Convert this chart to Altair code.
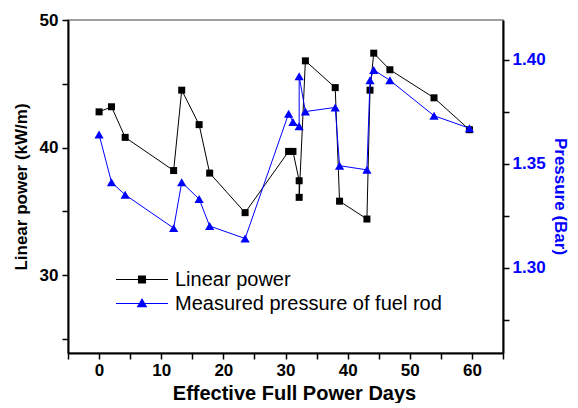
import altair as alt
import pandas as pd

# ---- data ----
days = [0, 2, 4.2, 12, 13.3, 16.1, 17.8, 23.5, 30.5, 31.2, 32.2, 32.2, 33.2,
        38.0, 38.7, 43.1, 43.6, 44.2, 46.8, 53.9, 59.6]
linear_power = [42.8, 43.2, 40.8, 38.2, 44.5, 41.8, 38.0, 34.9, 39.7, 39.7, 37.4,
                36.1, 46.8, 44.7, 35.8, 34.4, 44.5, 47.4, 46.1, 43.9, 41.4]
pressure = [1.364, 1.341, 1.335, 1.319, 1.341, 1.333, 1.320, 1.314, 1.374, 1.370,
            1.368, 1.392, 1.375, 1.377, 1.349, 1.347, 1.390, 1.395, 1.390, 1.373, 1.367]
series_names = ["Linear power", "Measured pressure of fuel rod"]
x_ticks = [-5, 0, 5, 10, 15, 20, 25, 30, 35, 40, 45, 50, 55, 60, 65]
lp_ticks = [25, 30, 35, 40, 45, 50]
pr_ticks = [1.275, 1.3, 1.325, 1.35, 1.375, 1.4]

FONT = "Liberation Sans"
BLUE = "#0000ff"

idx = list(range(len(days)))
df_lp = pd.DataFrame({"days": days, "lp": linear_power, "idx": idx})
df_pr = pd.DataFrame({"days": days, "pr": pressure, "idx": idx})
df_leg = pd.DataFrame({"series": series_names})

x_enc = alt.X(
    "days:Q",
    scale=alt.Scale(domain=[-5, 65], nice=False, zero=False),
    axis=alt.Axis(
        values=x_ticks, format="d",
        labelExpr="datum.value % 10 === 0 ? datum.label : ''",
        title="Effective Full Power Days", titleFontSize=20, titleFontWeight="bold",
        titleFont=FONT, titleColor="black",
        titleX=226, titleY=46, titleBaseline="alphabetic", titleAlign="center",
        labelFont=FONT, labelFontSize=17, labelFontWeight="bold", labelColor="black",
        labelPadding=3, labelFlush=False, labelOverlap=False,
        tickSize=6, tickWidth=1.5, tickColor="black",
        domainColor="black", domainWidth=2, grid=False,
    ),
)

y_lp = alt.Y(
    "lp:Q",
    scale=alt.Scale(domain=[23.9, 50], nice=False, zero=False),
    axis=alt.Axis(
        orient="left", values=lp_ticks, format="d",
        labelExpr="datum.value % 10 === 0 ? datum.label : ''",
        title="Linear power (kW/m)", titleFontSize=17, titleFontWeight="bold",
        titleFont=FONT, titleColor="black", titlePadding=9,
        labelFont=FONT, labelFontSize=17, labelFontWeight="bold", labelColor="black",
        labelPadding=4, labelOverlap=False, labelFlush=False,
        tickSize=6, tickWidth=1.5, tickColor="black",
        domainColor="black", domainWidth=2, grid=False,
    ),
)

y_pr = alt.Y(
    "pr:Q",
    scale=alt.Scale(domain=[1.259, 1.419], nice=False, zero=False),
    axis=alt.Axis(
        orient="right", values=pr_ticks, format=".2f",
        labelExpr="round(datum.value * 1000) % 50 === 0 ? datum.label : ''",
        title="Pressure (Bar)", titleFontSize=17, titleFontWeight="bold",
        titleFont=FONT, titleColor=BLUE, titlePadding=5, titleAngle=90,
        titleY=176, titleAlign="center",
        labelFont=FONT, labelFontSize=17, labelFontWeight="bold", labelColor=BLUE,
        labelPadding=3, labelOverlap=False, labelFlush=False,
        tickSize=6, tickWidth=1.5, tickColor="black",
        domainColor="black", domainWidth=2, grid=False,
    ),
)

order = alt.Order("idx:Q")

lp_line = alt.Chart(df_lp).mark_line(color="black", strokeWidth=1).encode(
    x=x_enc, y=y_lp, order=order)
lp_pts = alt.Chart(df_lp).mark_point(
    shape="square", filled=True, size=49, color="black", opacity=1
).encode(x=x_enc, y=y_lp)

pr_line = alt.Chart(df_pr).mark_line(color=BLUE, strokeWidth=1).encode(
    x=x_enc, y=y_pr, order=order)
pr_pts = alt.Chart(df_pr).mark_point(
    shape="triangle-up", filled=True, size=85, color=BLUE, opacity=1
).encode(x=x_enc, y=y_pr)

# legend symbols: line sample + marker (custom paths, unit = sqrt(size)/2 px)
sq_path = ("M-3.52,-0.045H1V0.045H-3.52Z "
           "M-1.61,-0.35H-0.91V0.35H-1.61Z")
tri_path = ("M-3.52,-0.045H1V0.045H-3.52Z "
            "M-1.26,-0.47L-0.8,0.33L-1.72,0.33Z")

legend_cfg = dict(
    title=None, orient="none", legendX=77, legendY=248,
    labelFont=FONT, labelFontSize=20, labelColor="black", labelLimit=0,
    labelOffset=7, rowPadding=2, symbolSize=529,
    symbolStrokeWidth=0, symbolOpacity=1, padding=0,
)

legend_layer = alt.Chart(df_leg).mark_point(filled=True, opacity=0).encode(
    color=alt.Color(
        "series:N",
        scale=alt.Scale(domain=series_names, range=["#000000", BLUE]),
        legend=alt.Legend(**legend_cfg),
    ),
    shape=alt.Shape(
        "series:N",
        scale=alt.Scale(domain=series_names, range=[sq_path, tri_path]),
        legend=alt.Legend(**legend_cfg),
    ),
)

chart = alt.layer(
    alt.layer(lp_line, lp_pts),
    alt.layer(pr_line, pr_pts),
    legend_layer,
).resolve_scale(
    y="independent"
).properties(
    width=435, height=333,
    padding={"left": 60, "top": 12, "right": 67, "bottom": 50},
    autosize=alt.AutoSizeParams(type="none"),
    background="white",
).configure_view(
    stroke="#7f7f7f", strokeWidth=1.5
)

chart.save("out.html", embed_options={"renderer": "svg", "actions": False})
